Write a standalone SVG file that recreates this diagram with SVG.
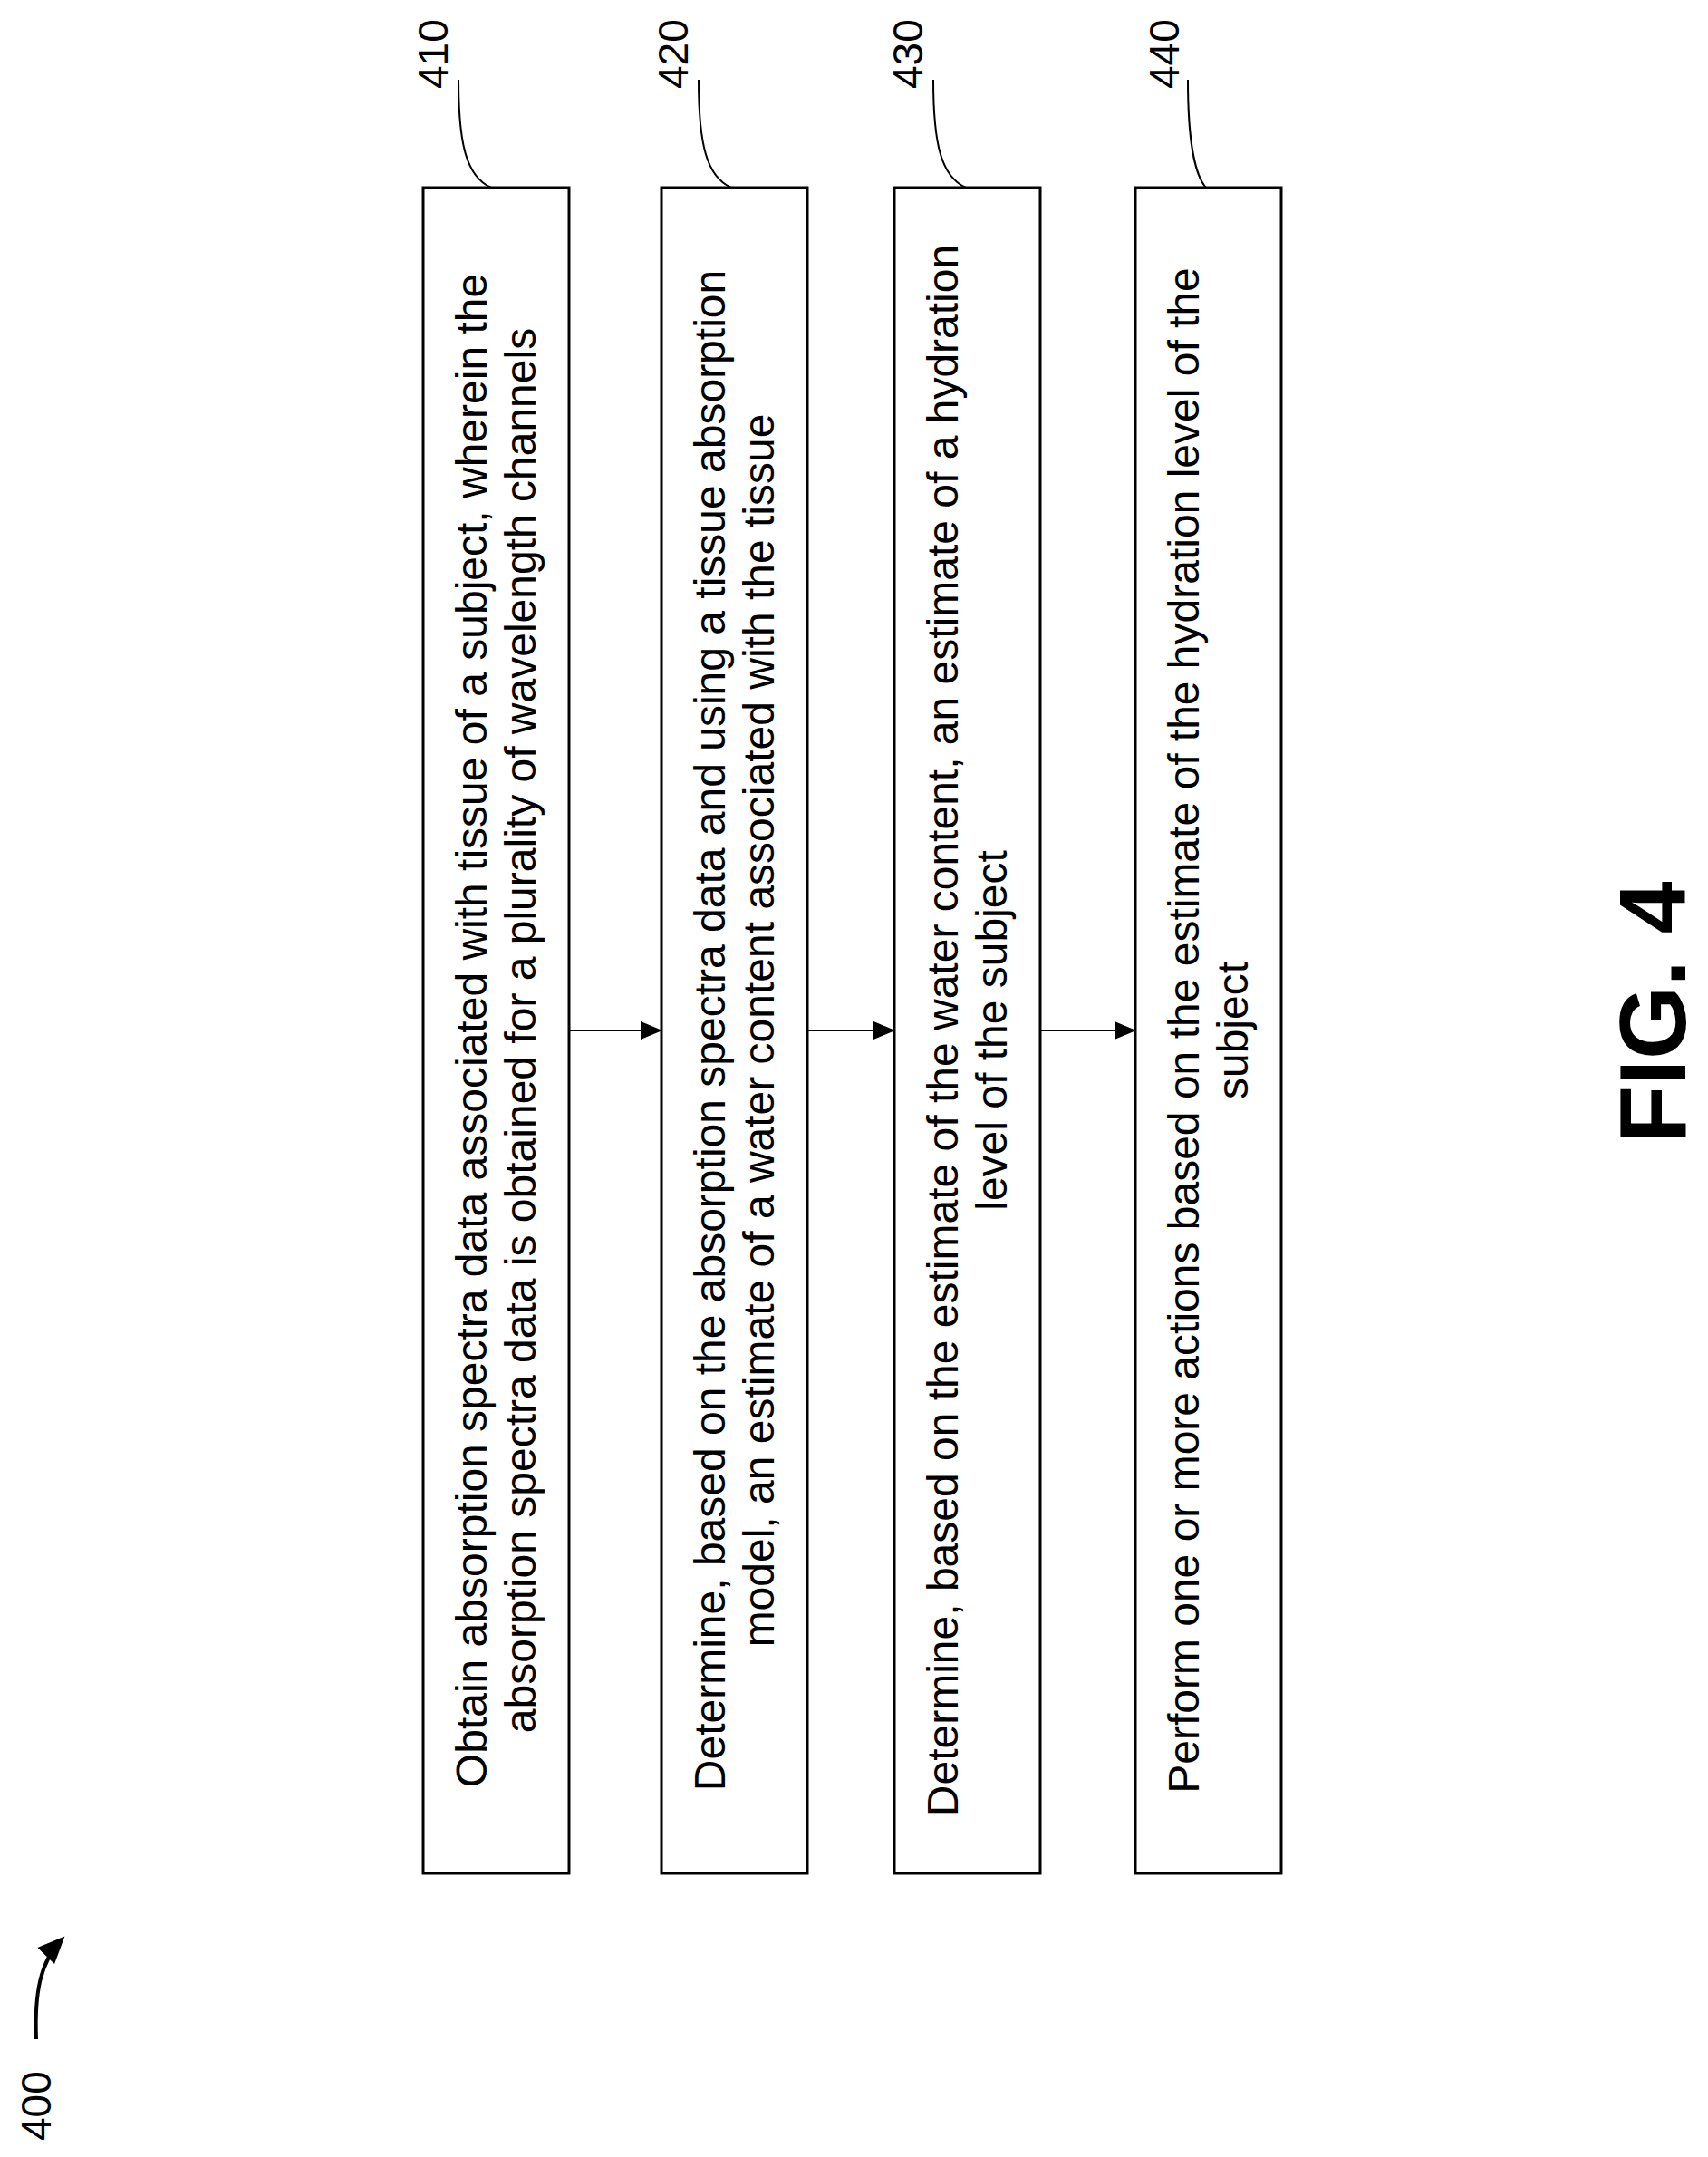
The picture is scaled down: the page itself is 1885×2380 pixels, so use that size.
<svg xmlns="http://www.w3.org/2000/svg" width="1885" height="2380" viewBox="0 0 1885 2380">
<style>
.box{fill:#fff;stroke:#000;stroke-width:3}
.t{font-family:"Liberation Sans",Arial,sans-serif;font-size:48px;text-anchor:middle}
.lbl{font-family:"Liberation Sans",Arial,sans-serif;font-size:46px}
.ld{fill:none;stroke:#000;stroke-width:2}
.ar{fill:none;stroke:#000;stroke-width:2;marker-end:url(#ah)}
</style>
<defs><marker id="ah" markerWidth="24" markerHeight="20" refX="23" refY="10" orient="auto" markerUnits="userSpaceOnUse" viewBox="0 0 24 20"><path d="M0,0 L24,10 L0,20 z"/></marker>
<marker id="ah2" markerWidth="30" markerHeight="30" refX="25" refY="15" orient="auto" markerUnits="userSpaceOnUse" viewBox="0 0 30 30"><path d="M0,2 L30,15 L0,28 z"/></marker></defs>
<rect width="1885" height="2380" fill="#fff"/>
<g id="n410"><rect class="box" x="467" y="207" width="161" height="1860"/>
<text class="t" transform="translate(537,1137) rotate(-90)">Obtain absorption spectra data associated with tissue of a subject,  wherein the</text>
<text class="t" transform="translate(591,1137) rotate(-90)">absorption spectra data is obtained for a plurality of wavelength channels</text>
<text class="lbl" transform="translate(494,98) rotate(-90)">410</text>
<path class="ld" d="M506,88 C506,160 515,195 542,207"/></g>
<g id="n420"><rect class="box" x="730" y="207" width="161" height="1860"/>
<text class="t" transform="translate(800,1137) rotate(-90)">Determine, based on the absorption spectra data and using a tissue absorption</text>
<text class="t" transform="translate(854,1137) rotate(-90)">model,  an estimate of a water content associated with the tissue</text>
<text class="lbl" transform="translate(759,98) rotate(-90)">420</text>
<path class="ld" d="M771,88 C771,160 780,195 807,207"/></g>
<g id="n430"><rect class="box" x="987" y="207" width="161" height="1860"/>
<text class="t" transform="translate(1057,1137) rotate(-90)">Determine, based on the estimate of the water content,  an estimate of a hydration</text>
<text class="t" transform="translate(1111,1137) rotate(-90)">level of the subject</text>
<text class="lbl" transform="translate(1018,98) rotate(-90)">430</text>
<path class="ld" d="M1030,88 C1030,160 1039,195 1066,207"/></g>
<g id="n440"><rect class="box" x="1253" y="207" width="161" height="1860"/>
<text class="t" transform="translate(1323,1137) rotate(-90)">Perform one or more actions based on the estimate of the hydration level of the</text>
<text class="t" transform="translate(1377,1137) rotate(-90)">subject</text>
<text class="lbl" transform="translate(1301,98) rotate(-90)">440</text>
<path class="ld" d="M1311,88 C1311,160 1320,195 1331,207"/></g>
<g id="connectors">
<line class="ar" x1="628" y1="1137" x2="730" y2="1137"/>
<line class="ar" x1="891" y1="1137" x2="987" y2="1137"/>
<line class="ar" x1="1148" y1="1137" x2="1253" y2="1137"/>
<path d="M40,2250 C38,2200 44,2165 68,2140" fill="none" stroke="#000" stroke-width="4" marker-end="url(#ah2)"/>
</g>
<text class="lbl" transform="translate(56,2362) rotate(-90)">400</text>
<text transform="translate(1860,1117) rotate(-90)" font-family="Liberation Sans,Arial,sans-serif" font-weight="bold" font-size="104" text-anchor="middle">FIG. 4</text>
</svg>
